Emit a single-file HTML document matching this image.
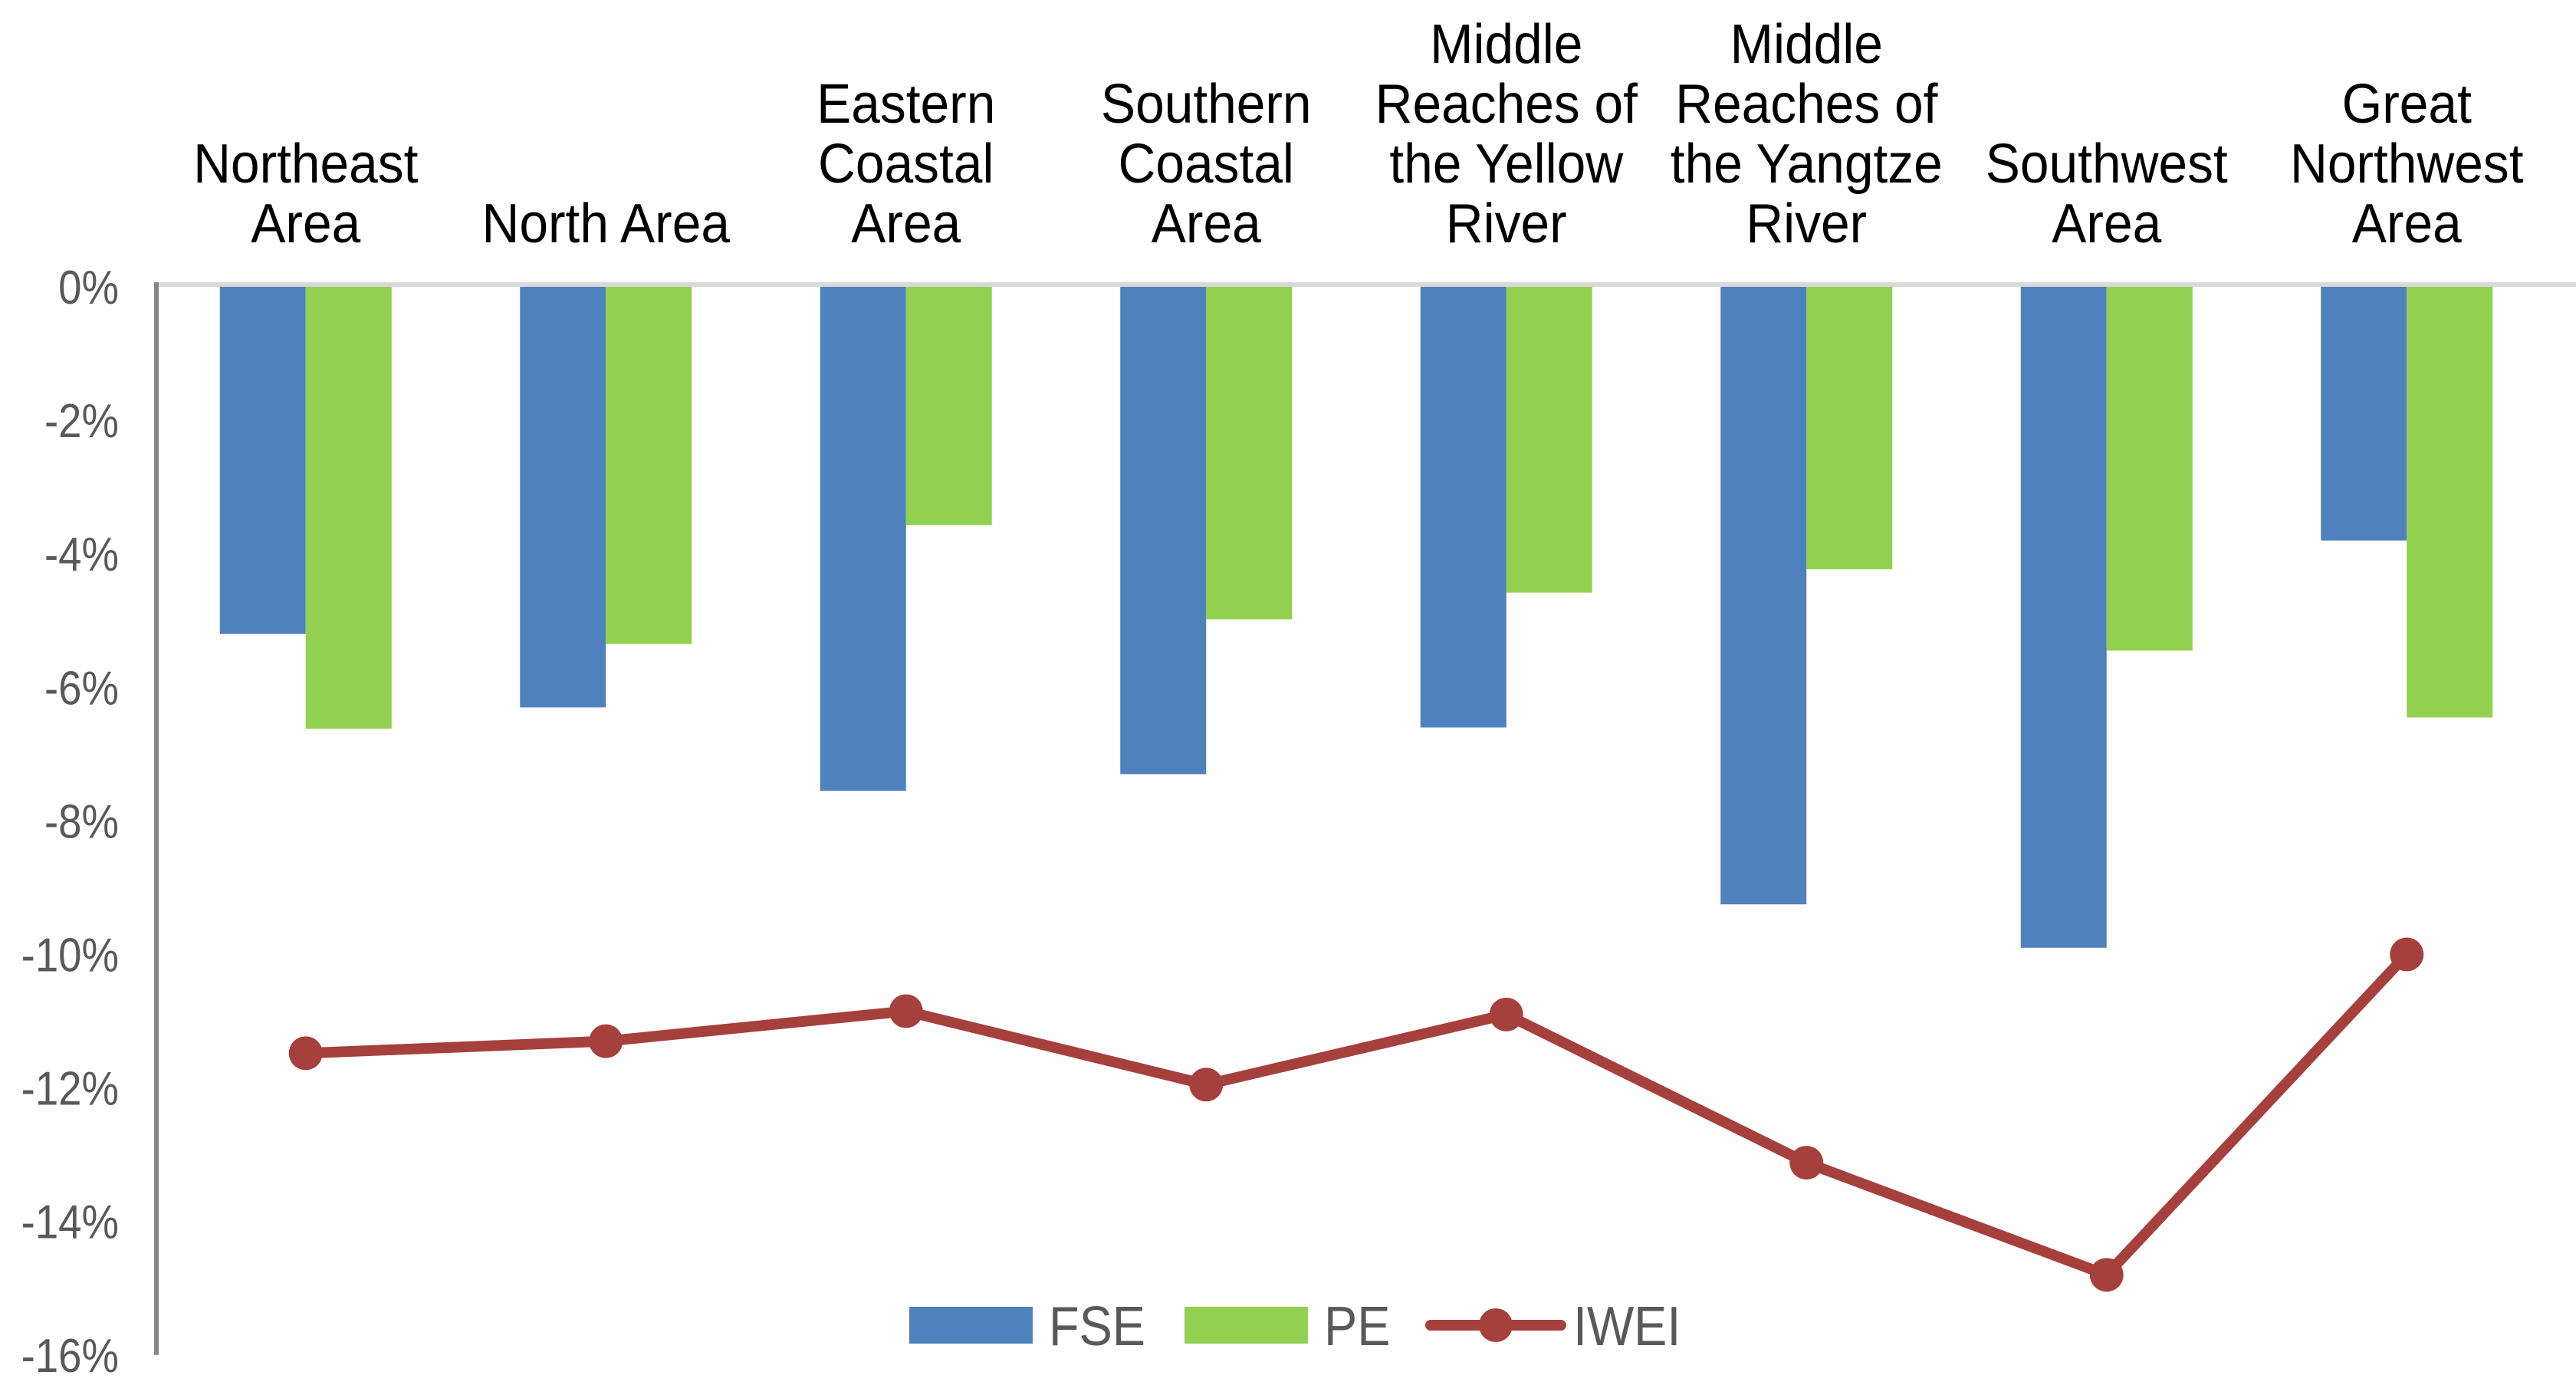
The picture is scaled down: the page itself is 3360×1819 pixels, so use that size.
<!DOCTYPE html>
<html><head><meta charset="utf-8"><style>
html,body{margin:0;padding:0;background:#fff;}
svg{display:block;}
text{font-family:"Liberation Sans",sans-serif;}
</style></head><body>
<svg id="chart" width="3360" height="1819" viewBox="0 0 3360 1819" xmlns="http://www.w3.org/2000/svg"></svg>
<script>
const categories = [["Northeast","Area"],["North Area"],["Eastern","Coastal","Area"],["Southern","Coastal","Area"],["Middle","Reaches of","the Yellow","River"],["Middle","Reaches of","the Yangtze","River"],["Southwest","Area"],["Great","Northwest","Area"]];
const fseValues = [-5.2, -6.3, -7.55, -7.3, -6.6, -9.25, -9.9, -3.8];
const peValues = [-6.62, -5.35, -3.57, -4.98, -4.58, -4.23, -5.45, -6.45];
const iweiValues = [-11.48, -11.3, -10.85, -11.95, -10.9, -13.12, -14.8, -10.0];
const yTicks = [0, -2, -4, -6, -8, -10, -12, -14, -16];
const yTickLabels = ["0%","-2%","-4%","-6%","-8%","-10%","-12%","-14%","-16%"];

const svg = document.getElementById('chart');
const NS = 'http://www.w3.org/2000/svg';
const left = 203, catW = 391.5, y0 = 374, perPct = 87.05;
const xc = i => left + catW * (i + 0.5);
const y = v => y0 - v * perPct;
function mk(tag, attrs, parent){ const e = document.createElementNS(NS, tag); for (const k in attrs) e.setAttribute(k, attrs[k]); (parent||svg).appendChild(e); return e; }

// y tick labels
yTicks.forEach((t, i) => {
  const tx = mk('text', {transform:`translate(155,${y(t)+22}) scale(0.88,1)`, 'text-anchor':'end', 'font-size':62, fill:'#595959'});
  tx.textContent = yTickLabels[i];
  
  
});

// bars
const bw = 112;
fseValues.forEach((v, i) => {
  const r = mk('rect', {x:xc(i)-bw, y:y0, width:bw, height:y(v)-y0, fill:'#4F81BD'});
  
  
});
peValues.forEach((v, i) => {
  const r = mk('rect', {x:xc(i), y:y0, width:bw, height:y(v)-y0, fill:'#92D050'});
  
  
});

// zero gridline and axis
const g0 = mk('line', {x1:203, y1:y0-3, x2:3360, y2:y0-3, stroke:'#D9D9D9', 'stroke-width':6});


const ax = mk('line', {x1:204, y1:y0-6, x2:204, y2:y(-16), stroke:'#868686', 'stroke-width':6});



// category labels
categories.forEach((lines, i) => {
  const n = lines.length;
  lines.forEach((ln, j) => {
    const by = 316 - (n - 1 - j) * 78;
    const t = mk('text', {transform:`translate(${xc(i)},${by}) scale(0.94,1)`, 'text-anchor':'middle', 'font-size':72, fill:'#000'});
    t.textContent = ln;
    
    
  });
});

// IWEI line
const pts = iweiValues.map((v, i) => `${xc(i)},${y(v)}`).join(' ');
const pl = mk('polyline', {points:pts, fill:'none', stroke:'#A5403D', 'stroke-width':14, 'stroke-linejoin':'round'});


iweiValues.forEach((v, i) => {
  const c = mk('circle', {cx:xc(i), cy:y(v), r:22, fill:'#A5403D'});
  
  
});

// legend
const ly = 1728;
const lg = mk('g', {});


const r1 = mk('rect', {x:1186, y:ly-24, width:161, height:48, fill:'#4F81BD'}, lg);


const t1 = mk('text', {transform:`translate(1368,${ly+26}) scale(0.9,1)`, 'font-size':72, fill:'#595959'}, lg);
t1.textContent = 'FSE';


const r2 = mk('rect', {x:1545, y:ly-24, width:161, height:48, fill:'#92D050'}, lg);


const t2 = mk('text', {transform:`translate(1727,${ly+26}) scale(0.9,1)`, 'font-size':72, fill:'#595959'}, lg);
t2.textContent = 'PE';


const l3 = mk('line', {x1:1866, y1:ly, x2:2036, y2:ly, stroke:'#A5403D', 'stroke-width':14, 'stroke-linecap':'round'}, lg);


const c3 = mk('circle', {cx:1951, cy:ly, r:22, fill:'#A5403D'}, lg);


const t3 = mk('text', {transform:`translate(2052,${ly+26}) scale(0.9,1)`, 'font-size':72, fill:'#595959'}, lg);
t3.textContent = 'IWEI';


</script>
</body></html>
